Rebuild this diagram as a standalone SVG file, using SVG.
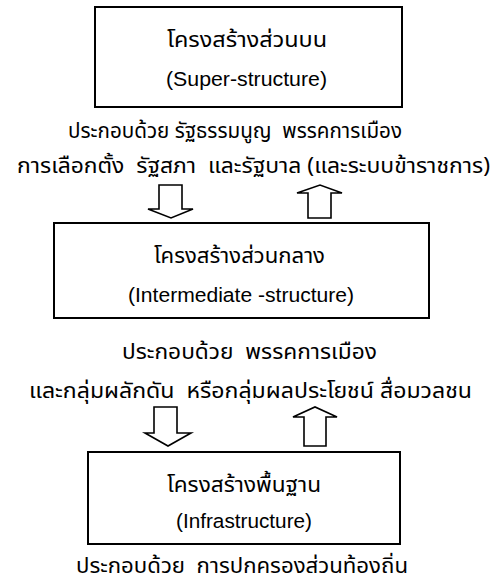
<svg xmlns="http://www.w3.org/2000/svg" width="494" height="583" viewBox="0 0 494 583" xml:space="preserve">
<style>
.box{fill:#fff;stroke:#000;stroke-width:2}
.arr{fill:#fff;stroke:#000;stroke-width:1.6;stroke-linejoin:miter}
.th{font-family:"Noto Sans Thai","Tahoma","Liberation Sans","DejaVu Sans",sans-serif;font-size:21px;fill:#000;text-anchor:middle;white-space:pre}
.en{font-family:"Liberation Sans",Arial,sans-serif;font-size:20.5px;fill:#000;text-anchor:middle}
</style>
<rect width="494" height="583" fill="#fff"/>
<g id="super">
<rect class="box" x="95" y="7" width="307" height="100"/>
<text class="th" x="247" y="47" textLength="160" lengthAdjust="spacingAndGlyphs">โครงสร้างส่วนบน</text>
<text class="en" x="246.5" y="86" textLength="161" lengthAdjust="spacingAndGlyphs">(Super-structure)</text>
</g>
<g id="super-desc">
<text class="th" x="235" y="138" textLength="334" lengthAdjust="spacingAndGlyphs">ประกอบด้วย รัฐธรรมนูญ  พรรคการเมือง</text>
<text class="th" x="253.5" y="173" textLength="473" lengthAdjust="spacingAndGlyphs">การเลือกตั้ง  รัฐสภา  และรัฐบาล (และระบบข้าราชการ)</text>
</g>
<g id="intermediate">
<rect class="box" x="54" y="223" width="375" height="95"/>
<text class="th" x="239.5" y="263" textLength="171" lengthAdjust="spacingAndGlyphs">โครงสร้างส่วนกลาง</text>
<text class="en" x="241" y="302" textLength="226" lengthAdjust="spacingAndGlyphs">(Intermediate -structure)</text>
</g>
<g id="intermediate-desc">
<text class="th" x="249.5" y="359" textLength="255" lengthAdjust="spacingAndGlyphs">ประกอบด้วย  พรรคการเมือง</text>
<text class="th" x="250.5" y="398" textLength="443" lengthAdjust="spacingAndGlyphs">และกลุ่มผลักดัน  หรือกลุ่มผลประโยชน์ สื่อมวลชน</text>
</g>
<g id="infra">
<rect class="box" x="88" y="452" width="312" height="92"/>
<text class="th" x="244" y="492" textLength="154" lengthAdjust="spacingAndGlyphs">โครงสร้างพื้นฐาน</text>
<text class="en" x="244" y="528" textLength="136" lengthAdjust="spacingAndGlyphs">(Infrastructure)</text>
</g>
<g id="infra-desc">
<text class="th" x="242" y="573" textLength="332" lengthAdjust="spacingAndGlyphs">ประกอบด้วย  การปกครองส่วนท้องถิ่น</text>
</g>
<g id="connectors">
<polygon class="arr" points="159,185 182,185 182,209 193,209 171,218 148,209 159,209"/>
<polygon class="arr" points="308,218 331,218 331,193 342,193 320,185 297,193 308,193"/>
<polygon class="arr" points="154,407 177,407 177,433 191,433 168,446 145,433 154,433"/>
<polygon class="arr" points="304,446 326,446 326,417 337,417 315,407 293,417 304,417"/>
</g>
</svg>
